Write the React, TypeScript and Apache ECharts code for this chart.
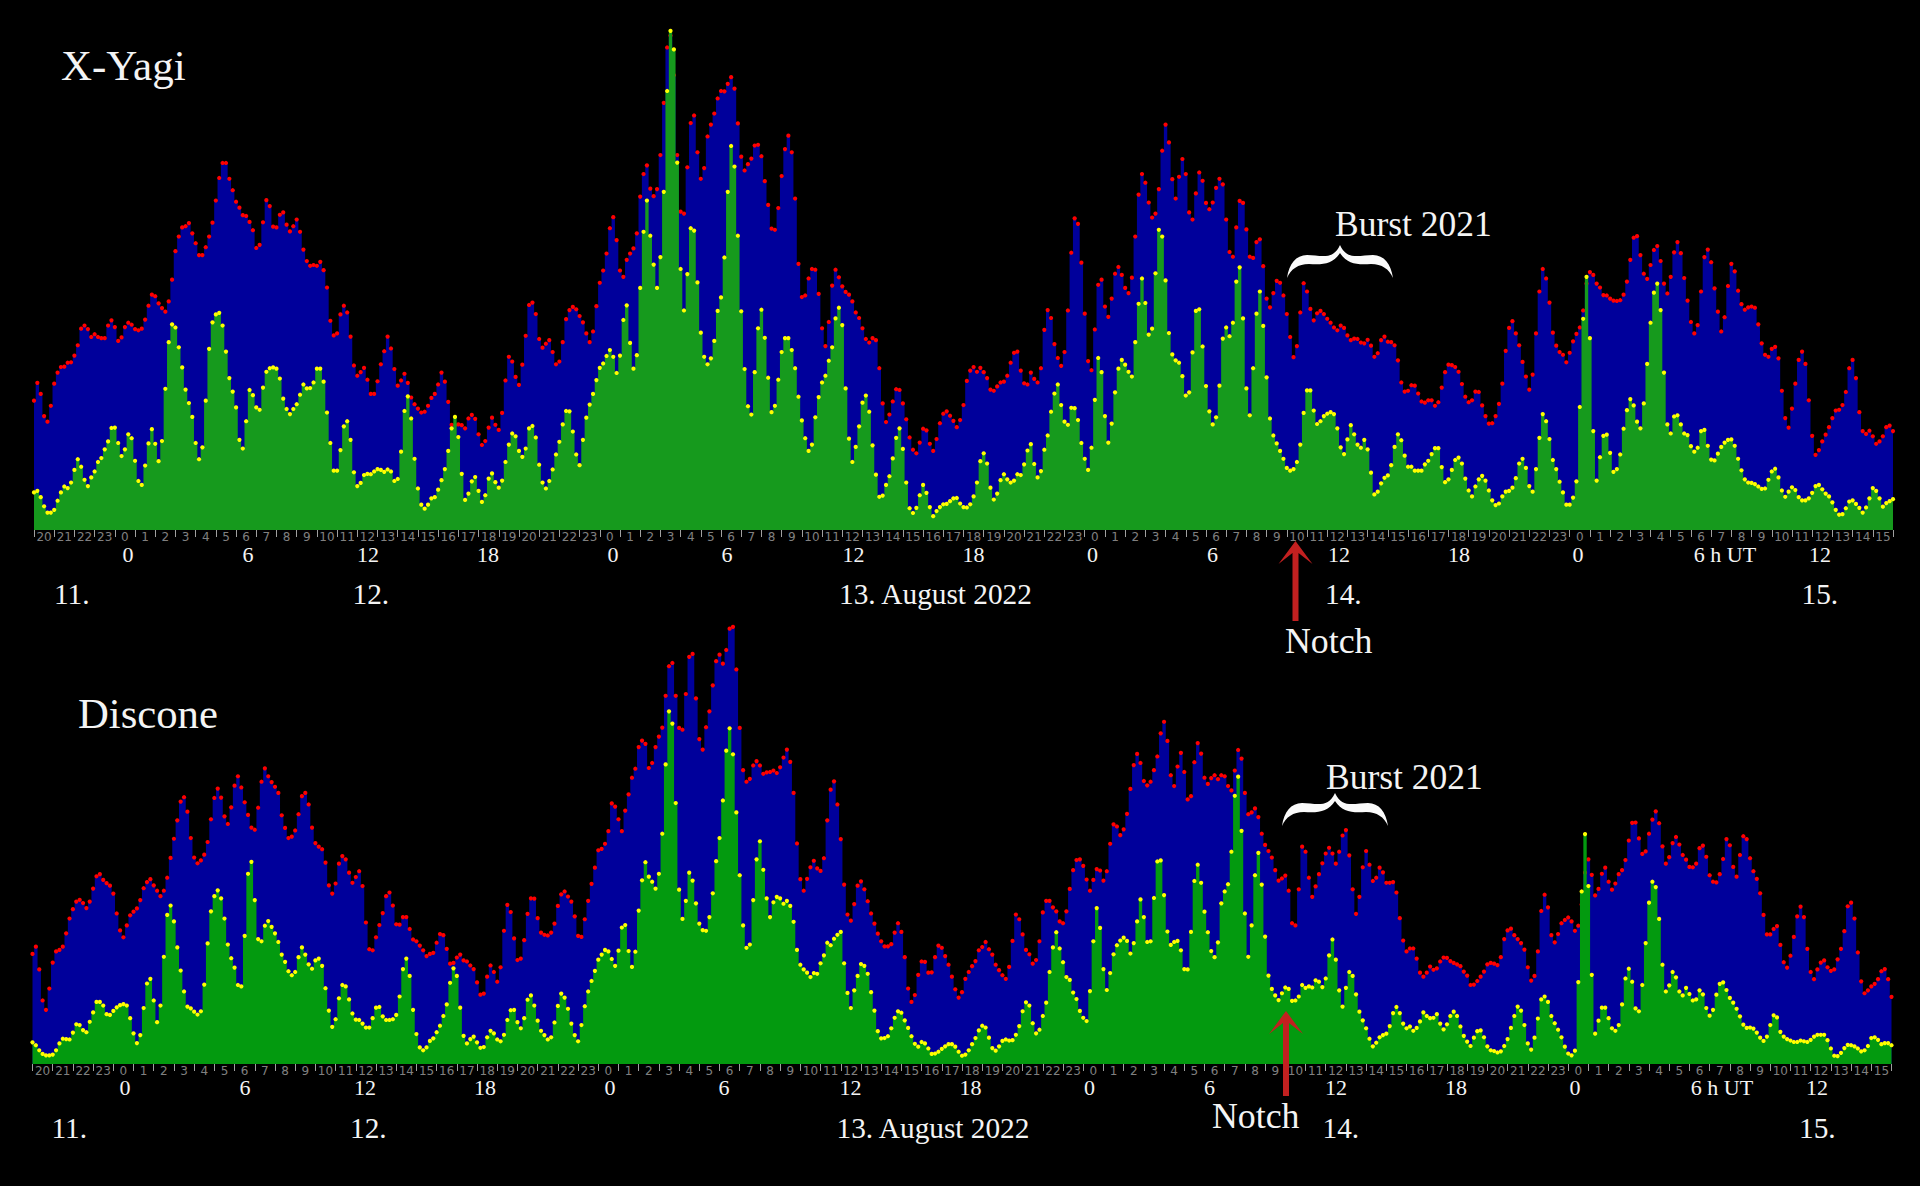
import React, { useEffect, useRef } from "react";
import * as echarts from "echarts";

const yagiTotal = [
327,372,344,288,274,314,370,398,412,413,423,424,441,467,509,517,508,488,495,488,485,485,517,530,
513,478,487,513,524,519,508,505,509,532,567,595,591,573,561,552,578,633,705,742,765,768,776,750,
725,695,695,715,742,777,833,890,928,928,888,859,830,815,796,794,779,758,713,721,778,834,819,767,
765,797,803,772,755,768,785,754,709,680,668,670,668,678,657,613,529,492,497,545,567,550,489,416,
390,399,410,380,344,344,376,419,452,489,459,407,365,378,395,372,335,318,307,297,299,314,334,344,
368,398,375,324,266,265,267,265,257,282,291,281,242,215,225,259,284,266,253,296,378,438,426,387,
367,418,491,569,575,546,483,461,471,480,450,419,426,475,533,556,564,558,541,525,497,475,502,566,
625,656,699,763,791,733,656,640,683,699,712,750,843,
900,922,863,844,862,948,1080,1220,1250,1150,948,805,800,917,1029,1048,955,888,915,995,1025,1053,1091,1110,
1109,1128,1145,1116,1028,944,909,925,939,972,974,945,882,822,762,759,814,895,963,997,955,838,673,589,
593,636,660,658,597,510,465,526,618,658,639,616,602,595,578,550,536,510,483,474,485,480,409,320,
273,292,325,356,354,320,280,234,203,194,221,256,252,218,200,230,270,294,300,289,276,260,278,316,
377,403,412,400,410,399,384,355,352,363,373,375,390,423,448,451,403,371,368,398,382,373,409,506,
556,536,470,435,415,450,555,701,788,774,676,547,427,404,507,620,633,565,539,585,648,665,645,612,
599,638,742,848,900,878,828,790,800,862,959,1025,980,887,838,893,938,900,803,785,851,904,883,827,
811,828,865,888,874,785,703,691,765,832,827,760,691,688,728,735,667,585,563,599,630,
625,593,546,488,437,465,550,624,603,559,530,548,554,546,534,524,512,505,517,511,492,480,484,483,
474,472,481,466,438,447,480,489,476,475,467,429,373,350,352,366,365,345,325,322,328,328,314,323,
360,399,418,417,412,400,369,337,323,328,350,349,315,288,269,270,288,319,370,453,511,528,497,467,
425,388,355,393,497,603,660,636,575,499,466,450,443,424,448,477,496,512,555,623,652,645,623,613,
594,593,585,580,579,581,595,628,683,739,743,695,648,635,670,708,718,680,623,598,640,702,728,700,
637,580,526,497,518,603,690,709,677,611,552,502,538,617,673,654,605,571,557,563,565,562,520,472,
443,438,458,463,434,352,283,259,307,370,430,451,420,328,238,190,202,224,241,260,283,302,304,316,
349,409,430,384,298,250,243,251,237,218,224,237,260,264,250];

const yagiOverhead = [
95,99,83,60,44,44,51,74,95,110,106,120,152,179,160,127,111,133,148,172,182,204,224,258,
259,220,187,204,242,232,175,124,114,163,219,255,218,174,225,357,475,520,512,462,411,355,321,286,
220,179,209,327,458,525,545,549,517,451,384,350,310,228,206,275,354,341,310,304,360,400,409,411,
408,383,332,306,293,306,318,342,368,358,359,373,408,408,375,297,220,150,150,202,262,275,228,146,
111,119,139,142,141,148,154,152,147,153,148,124,129,198,301,338,282,180,105,64,54,64,80,83,
102,126,154,200,257,286,235,142,76,92,123,134,99,71,88,130,143,121,107,125,172,216,244,237,
200,185,206,257,263,234,165,120,105,124,153,191,223,267,301,300,249,191,164,228,284,317,344,379,
410,421,440,455,438,397,441,531,568,473,408,442,
612,754,833,744,671,612,690,855,1110,1262,1215,929,660,555,647,763,757,626,499,438,419,434,478,554,
588,689,855,971,919,744,553,407,313,292,399,510,557,486,385,298,314,380,450,485,485,455,409,337,
277,232,200,216,285,336,373,390,428,462,535,562,518,358,231,172,210,262,322,340,299,214,140,84,
87,114,136,181,233,257,205,120,55,43,56,88,114,94,58,35,48,58,65,66,73,80,81,67,
58,57,65,85,120,174,194,168,107,77,92,126,141,128,120,125,141,139,166,201,217,167,133,149,
203,239,299,345,368,316,274,266,309,308,278,220,180,152,208,329,435,399,288,221,269,348,408,430,
418,400,388,475,572,636,574,494,509,649,759,742,631,498,444,429,423,389,340,348,449,554,558,464,
364,300,267,285,365,484,512,490,524,628,664,535,358,290,409,547,603,516,386,282,239,219,
200,180,157,150,154,172,216,296,353,353,302,268,275,288,294,298,293,257,209,192,229,265,242,216,
208,228,204,145,90,97,118,132,138,164,210,242,227,188,160,160,150,150,150,166,175,192,207,207,
159,121,128,152,177,183,168,130,100,85,110,128,137,125,100,75,63,67,85,97,99,107,131,168,
180,157,111,97,154,233,293,275,230,177,154,122,95,64,64,82,123,311,534,640,485,250,125,184,
238,241,195,147,154,191,256,303,331,315,274,257,320,420,524,600,623,556,398,267,244,287,290,267,
244,240,212,198,208,250,253,213,178,176,193,210,221,228,229,213,180,151,128,120,119,116,110,104,
105,127,148,155,133,100,84,97,108,101,83,75,75,80,94,111,114,103,92,85,70,51,39,40,
55,72,75,66,56,44,57,80,106,99,80,59,68,73,78];

const disconeTotal = [
305,325,262,176,150,209,281,312,316,325,362,403,429,450,455,446,432,450,486,520,526,510,501,494,
472,417,370,351,384,412,422,431,454,487,504,512,495,480,465,480,516,571,624,675,727,739,699,626,
572,556,564,580,615,678,737,763,738,686,665,711,771,797,766,725,690,655,649,710,782,819,797,781,
768,751,689,654,626,630,647,692,742,751,719,655,612,602,595,558,495,472,500,555,576,567,530,502,
518,534,493,392,318,315,351,385,418,465,475,439,387,386,407,407,374,345,340,328,315,299,305,308,
336,360,357,319,278,280,295,303,287,284,273,263,226,192,195,242,273,255,228,268,369,441,421,348,
288,292,343,416,459,458,404,364,358,356,364,389,438,470,478,464,450,409,355,352,401,452,499,544,
592,596,610,645,722,713,678,645,702,747,793,818,878,
896,887,820,834,878,907,932,1020,1102,1111,1020,931,926,1025,1128,1136,1013,900,871,933,977,1049,1116,1134,
1109,1147,1206,1211,1093,931,814,782,790,827,839,827,804,808,809,813,806,822,849,871,837,751,611,512,
480,513,545,563,542,535,570,675,760,783,719,623,497,414,397,443,494,506,484,451,417,389,361,340,
326,326,332,364,390,366,296,209,172,191,247,284,283,253,254,296,328,322,299,275,242,207,184,199,
236,255,271,285,315,324,338,318,303,275,260,246,236,269,341,414,401,359,316,304,278,288,340,420,
452,452,434,423,395,390,423,485,537,565,567,549,511,480,510,540,536,508,534,610,664,658,634,650,
693,762,828,859,834,784,772,782,814,852,916,948,895,800,770,824,862,809,733,742,836,889,860,793,
776,792,800,789,800,797,770,758,813,870,846,751,692,697,708,684,638,607,590,572,537,508,
514,522,480,390,384,484,602,588,516,463,492,526,556,583,599,583,555,588,633,648,578,484,416,463,
545,590,552,507,516,544,531,502,502,504,475,404,342,312,320,320,292,253,242,253,270,261,265,284,
295,294,285,280,276,271,256,245,219,220,230,242,256,276,280,278,274,296,346,370,375,357,346,335,
317,268,231,244,312,424,469,434,357,337,360,390,399,406,395,369,383,442,530,567,524,467,485,527,
544,505,483,500,526,537,565,619,668,669,625,582,589,638,677,700,667,603,555,573,612,629,608,579,
566,546,545,555,598,605,574,523,505,503,526,568,623,606,546,519,579,631,623,570,534,513,473,413,
359,359,374,382,330,282,267,300,352,409,436,407,319,255,235,262,281,287,268,258,262,290,319,368,
437,447,403,309,229,196,204,215,222,235,257,263,235,186];

const disconeOverhead = [
60,52,38,28,24,24,26,38,57,70,69,68,87,110,108,94,88,117,143,172,172,162,138,136,
147,157,163,166,162,127,85,58,80,155,223,236,176,116,162,297,413,439,395,323,259,201,159,154,
145,137,146,220,334,423,465,481,459,403,331,293,267,219,215,355,527,560,454,346,340,383,396,380,
362,338,303,283,257,246,255,296,323,303,276,264,287,292,272,210,148,103,124,182,219,215,179,140,
123,122,112,101,101,127,156,158,132,122,122,124,136,187,263,292,244,150,83,46,38,46,64,71,
88,106,133,165,225,265,244,156,78,57,69,76,60,45,47,74,92,85,68,63,81,122,149,150,
116,99,127,178,190,162,120,92,80,68,74,115,161,195,184,153,112,80,63,108,160,201,230,258,
289,303,316,312,291,272,314,378,385,313,269,311,
425,509,559,519,505,486,527,638,830,977,943,723,483,402,452,530,508,445,389,371,369,407,473,562,
626,730,868,930,858,697,523,384,322,331,454,567,617,538,459,407,448,463,459,444,452,438,394,316,
275,262,253,241,252,250,279,301,336,329,347,358,366,279,197,155,204,244,277,272,250,199,148,91,
71,72,77,99,128,146,142,121,100,77,56,48,61,57,43,28,29,34,42,49,55,55,48,34,
23,26,38,55,72,93,106,101,73,44,37,49,64,68,65,66,81,105,146,171,162,113,85,95,
133,170,255,323,365,320,282,241,233,198,180,147,128,119,202,340,432,377,263,205,252,304,329,342,
350,341,306,335,395,456,407,338,340,460,561,564,468,367,330,338,341,315,263,262,366,507,552,502,
422,365,313,296,337,445,478,498,588,743,796,646,417,297,384,523,585,497,353,245,208,190,177,
196,212,208,175,176,187,219,211,215,212,232,228,213,237,301,345,289,204,159,211,255,244,193,145,
121,99,70,49,59,74,80,84,105,141,158,141,112,99,104,92,100,118,143,133,127,128,138,112,
96,110,133,145,133,104,78,62,50,73,91,93,74,49,38,36,32,35,50,69,100,133,159,148,
108,57,40,73,126,179,187,172,133,113,95,74,48,29,24,37,227,478,637,493,247,84,120,156,
156,127,99,92,108,165,237,264,228,154,146,219,335,447,505,490,402,275,201,218,255,240,201,190,
211,194,176,179,204,193,155,134,150,192,222,226,205,183,170,153,132,109,100,101,98,87,73,64,
76,108,135,129,89,76,69,65,61,61,65,63,61,67,76,81,81,81,66,43,23,22,31,44,
53,52,49,43,35,38,50,72,74,67,55,58,58,52];

const hourSequence = ["20","21","22","23","0","1","2","3","4","5","6","7","8","9","10","11","12","13","14","15","16","17","18","19"];
const majorHours = ["0","6","12","18","0","6","12","18","0","6","12","18","0","6 h UT","12"];
const majorHourX = [128,248,368,488,613,727,853.5,973.5,1092.5,1212.5,1339,1459,1578,1725,1820];
const dayLabels = ["11.","12.","13. August 2022","14.","15."];
const dayLabelX = [54,352.5,839,1325,1801.5];

const SLOTS_PER_HOUR = 6;
const slotCount = Math.max(yagiTotal.length, yagiOverhead.length, disconeTotal.length, disconeOverhead.length);
const slots = Array.from({ length: slotCount }, (_, i) => hourSequence[Math.floor(i / SLOTS_PER_HOUR) % 24]);

const BRACE = "M0,33 C2,19 9,10 20,10 C33,10 46,16 53,0 C60,16 73,10 86,10 C97,10 104,19 106,33 C102,24 95,19 84,19 C70,20 60,19 53,8 C46,19 36,20 22,19 C11,19 4,24 0,33 Z";
echarts.graphic.registerShape("brace", echarts.graphic.extendPath(BRACE, {}));

const SERIF = '"Liberation Serif", "Times New Roman", serif';
function label(text: string, x: number, baseline: number, size: number, align = "left") {
  return {
    type: "text",
    z: 100,
    silent: true,
    style: { text, x, y: baseline - 0.32 * size, fill: "#f4f4f4", font: `${size}px ${SERIF}`, align, verticalAlign: "middle" },
  };
}
function arrow(tipX: number, tipY: number, endY: number) {
  return {
    type: "polygon",
    z: 90,
    silent: true,
    shape: {
      points: [
        [tipX, tipY], [tipX + 17, tipY + 23], [tipX + 3, tipY + 12], [tipX + 3, endY],
        [tipX - 3, endY], [tipX - 3, tipY + 12], [tipX - 17, tipY + 23],
      ],
    },
    style: { fill: "#c22020" },
  };
}
function brace(x: number, y: number) {
  return { type: "brace", x, y, z: 100, silent: true, style: { fill: "#fafafa" } };
}

function areaSeries(values: number[], axis: number, fill: string, dot: string, z: number) {
  return {
    type: "line",
    xAxisIndex: axis,
    yAxisIndex: axis,
    data: values,
    step: "middle",
    z,
    silent: true,
    showSymbol: true,
    showAllSymbol: true,
    symbol: "circle",
    symbolSize: 4.2,
    itemStyle: { color: dot },
    lineStyle: { width: 0, opacity: 0 },
    areaStyle: { color: fill, opacity: 1 },
  };
}

function xAxis(gridIndex: number) {
  return {
    type: "category",
    gridIndex,
    data: slots,
    boundaryGap: false,
    axisLine: { show: false },
    axisTick: {
      show: true,
      length: 7,
      interval: (i: number) => i % SLOTS_PER_HOUR === 0,
      lineStyle: { color: "#a0a0a0", width: 1 },
    },
    axisLabel: {
      show: true,
      interval: (i: number) => i % SLOTS_PER_HOUR === 3,
      margin: 1,
      color: "#808080",
      fontSize: 12,
      fontFamily: '"DejaVu Sans", sans-serif',
    },
    splitLine: { show: false },
  };
}

export default function App() {
  const ref = useRef<HTMLDivElement>(null);
  useEffect(() => {
    const chart = echarts.init(ref.current!, undefined, { renderer: "svg" });
    const elements: any[] = [
      label("X-Yagi", 61, 79, 43),
      label("Discone", 78, 727, 42.7),
      ...majorHours.map((t, i) => label(t, majorHourX[i], 562, 22, "center")),
      ...majorHours.map((t, i) => label(t, majorHourX[i] - 3, 1095, 22, "center")),
      ...dayLabels.map((t, i) => label(t, dayLabelX[i], 603, 29.3)),
      ...dayLabels.map((t, i) => label(t, dayLabelX[i] - 2.5, 1137, 29.3)),
      label("Burst 2021", 1335, 235, 35.5),
      label("Burst 2021", 1326, 788.5, 35.5),
      label("Notch", 1285, 652, 35.8),
      label("Notch", 1212, 1127, 35.8),
      brace(1287, 245),
      brace(1282, 793),
      arrow(1295.5, 541, 621),
      arrow(1286, 1011, 1096),
    ];
    chart.setOption({
      animation: false,
      backgroundColor: "#000000",
      grid: [
        { left: 34, width: 1859, top: 0, height: 530 },
        { left: 32.5, width: 1859, top: 620, height: 444 },
      ],
      xAxis: [xAxis(0), xAxis(1)],
      yAxis: [
        { type: "value", gridIndex: 0, min: 0, max: 1340, show: false },
        { type: "value", gridIndex: 1, min: 0, max: 1230, show: false },
      ],
      series: [
        areaSeries(yagiTotal, 0, "#00009b", "#ff0000", 2),
        areaSeries(yagiOverhead, 0, "#169a1d", "#ffff00", 3),
        areaSeries(disconeTotal, 1, "#00009b", "#ff0000", 2),
        areaSeries(disconeOverhead, 1, "#039a0f", "#ffff00", 3),
      ],
      graphic: { elements },
    });
    return () => chart.dispose();
  }, []);
  return <div ref={ref} style={{ position: "fixed", left: 0, top: 0, width: 1920, height: 1186, background: "#000" }} />;
}
